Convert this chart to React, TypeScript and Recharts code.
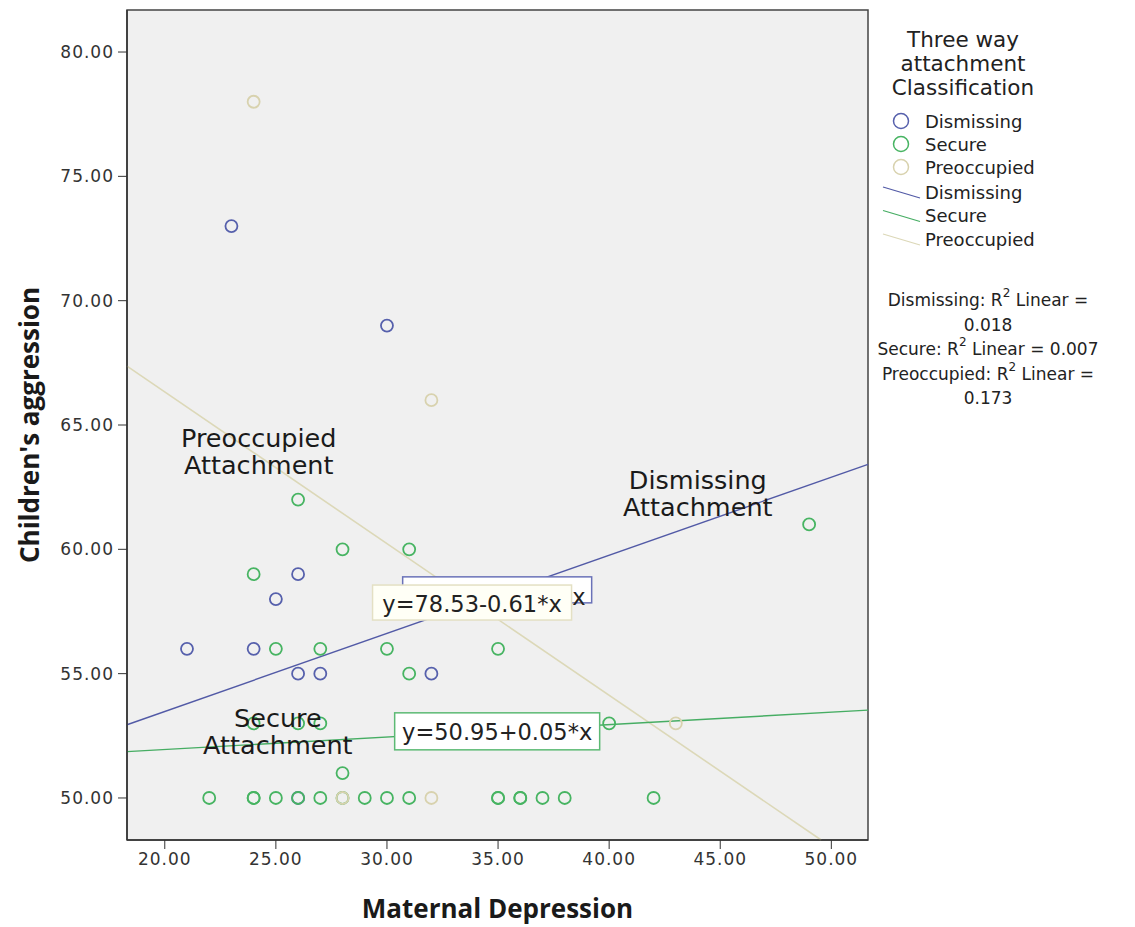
import React from "react";
import {
  CartesianGrid,
  ReferenceArea,
  ReferenceDot,
  ReferenceLine,
  Scatter,
  ScatterChart,
  XAxis,
  YAxis,
  Legend,
} from "recharts";

// axis ranges / ticks
const X_MIN = 18.3;
const X_MAX = 51.65;
const Y_MIN = 48.31;
const Y_MAX = 81.69;
const xTicks = [20, 25, 30, 35, 40, 45, 50];
const yTicks = [50, 55, 60, 65, 70, 75, 80];

// Maternal depression (x) / children's aggression (y), per group
const dismissingX = [23, 30, 26, 25, 21, 24, 26, 27, 32, 26];
const dismissingY = [73, 69, 59, 58, 56, 56, 55, 55, 55, 50];

const secureX = [26, 24, 28, 31, 25, 27, 30, 35, 31, 24, 26, 27, 40, 28, 49,
  22, 24, 24, 25, 26, 27, 28, 29, 30, 31, 35, 35, 36, 36, 37, 38, 42];
const secureY = [62, 59, 60, 60, 56, 56, 56, 56, 55, 53, 53, 53, 53, 51, 61,
  50, 50, 50, 50, 50, 50, 50, 50, 50, 50, 50, 50, 50, 50, 50, 50, 50];

const preoccupiedX = [24, 32, 32, 43, 28];
const preoccupiedY = [78, 66, 50, 53, 50];

// fitted lines (intercept, slope)
const fitDismissing = { a: 47.2, b: 0.314 };
const fitSecure = { a: 50.95, b: 0.05 };
const fitPreoccupied = { a: 78.53, b: -0.61 };

const C_DIS = "#5660ac";
const C_SEC = "#47b462";
const C_PRE = "#d8d2ae";
const L_DIS = "#525aa6";
const L_SEC = "#46ad63";
const L_PRE = "#dcd8b8";

const FONT = "'DejaVu Sans', Verdana, sans-serif";
const TITLE_FONT = "'Open Sans', 'DejaVu Sans', sans-serif";

const zip = (xs: number[], ys: number[]) => xs.map((x, i) => ({ x, y: ys[i] }));

// end points of a fitted line, kept inside the plot box
function fitSegment(f: { a: number; b: number }) {
  const pt = (x: number) => {
    let y = f.a + f.b * x;
    if (y < Y_MIN) { x = (Y_MIN - f.a) / f.b; y = Y_MIN; }
    if (y > Y_MAX) { x = (Y_MAX - f.a) / f.b; y = Y_MAX; }
    return { x, y };
  };
  return [pt(X_MIN), pt(X_MAX)];
}

const ring = (color: string) => (p: any) => (
  <circle cx={p.cx} cy={p.cy} r={6} fill="none" stroke={color} strokeWidth={1.8} />
);

const eqBox = (text: string, w: number, h: number, stroke: string, fill: string, anchor: "middle" | "end" = "middle", dy = 1) =>
  (p: any) => (
    <g>
      <rect x={p.cx - w / 2} y={p.cy - h / 2} width={w} height={h} fill={fill} stroke={stroke} strokeWidth={1.5} />
      <text
        x={anchor === "middle" ? p.cx : p.cx + w / 2 - 6}
        y={p.cy + dy}
        textAnchor={anchor}
        dominantBaseline="central"
        fontFamily={FONT}
        fontSize={22.5}
        fill="#222"
      >
        {text}
      </text>
    </g>
  );

const note = (l1: string, l2: string) => (p: any) => (
  <text x={p.cx} y={p.cy} textAnchor="middle" fontFamily={FONT} fontSize={25.5} fill="#1a1a1a">
    <tspan x={p.cx} dy={-5}>{l1}</tspan>
    <tspan x={p.cx} dy={27.5}>{l2}</tspan>
  </text>
);

const legendText = { fontFamily: FONT, fill: "#222" };

function LegendPanel() {
  const items = [
    { name: "Dismissing", color: C_DIS },
    { name: "Secure", color: C_SEC },
    { name: "Preoccupied", color: C_PRE },
  ];
  return (
    <svg width={267} height={420}>
      {["Three way", "attachment", "Classification"].map((t, i) => (
        <text key={t} x={95} y={39 + i * 24} textAnchor="middle" dominantBaseline="central" fontSize={21.5} {...legendText}>
          {t}
        </text>
      ))}
      {items.map((it, i) => (
        <g key={"p" + it.name}>
          <circle cx={33} cy={121 + i * 23} r={7.5} fill="none" stroke={it.color} strokeWidth={1.5} />
          <text x={57} y={121 + i * 23} dominantBaseline="central" fontSize={18} {...legendText}>{it.name}</text>
        </g>
      ))}
      {items.map((it, i) => (
        <g key={"l" + it.name}>
          <line x1={15} y1={187 + i * 23.5} x2={52} y2={198 + i * 23.5} stroke={[L_DIS, L_SEC, L_PRE][i]} strokeWidth={1.3} />
          <text x={57} y={192 + i * 23.5} dominantBaseline="central" fontSize={18} {...legendText}>{it.name}</text>
        </g>
      ))}
      {[
        ["Dismissing: R", "2", " Linear ="],
        ["0.018", "", ""],
        ["Secure: R", "2", " Linear = 0.007"],
        ["Preoccupied: R", "2", " Linear ="],
        ["0.173", "", ""],
      ].map((ln, i) => (
        <text key={i} x={120} y={300 + i * 24.5} textAnchor="middle" dominantBaseline="central" fontSize={17} {...legendText}>
          {ln[0]}
          {ln[1] && <tspan fontSize={12} dy={-7}>{ln[1]}</tspan>}
          {ln[2] && <tspan dy={ln[1] ? 7 : 0}>{ln[2]}</tspan>}
        </text>
      ))}
    </svg>
  );
}

const tickStyle = { fontSize: 17, fill: "#333", fontFamily: FONT, letterSpacing: 1 };

export default function App() {
  return (
    <div style={{ position: "absolute", left: 0, top: 0, background: "#fff" }}>
      <ScatterChart width={1135} height={927} margin={{ top: 10, right: 267, bottom: 0, left: 0 }}>
        <CartesianGrid fill="#f0f0f0" horizontal={false} vertical={false} />
        <XAxis
          type="number"
          dataKey="x"
          domain={[X_MIN, X_MAX]}
          ticks={xTicks}
          allowDataOverflow
          height={87}
          tickSize={9}
          tickMargin={4}
          tick={tickStyle}
          tickFormatter={(v: number) => v.toFixed(2)}
          stroke="#333"
          axisLine={{ stroke: "#333", strokeWidth: 1.5 }}
          label={{
            content: (p: any) => (
              <text
                x={p.viewBox.x + p.viewBox.width / 2}
                y={908}
                textAnchor="middle"
                dominantBaseline="central"
                fontFamily={TITLE_FONT}
                fontWeight="bold"
                fontSize={26}
                fill="#1a1a1a"
              >
                Maternal Depression
              </text>
            ),
          }}
        />
        <YAxis
          type="number"
          dataKey="y"
          domain={[Y_MIN, Y_MAX]}
          ticks={yTicks}
          allowDataOverflow
          width={127}
          tickSize={9}
          tickMargin={4}
          tick={tickStyle}
          tickFormatter={(v: number) => v.toFixed(2)}
          stroke="#333"
          axisLine={{ stroke: "#333", strokeWidth: 1.5 }}
          label={{
            content: () => (
              <text
                x={29}
                y={425}
                transform="rotate(-90 29 425)"
                textAnchor="middle"
                dominantBaseline="central"
                fontFamily={TITLE_FONT}
                fontWeight="bold"
                fontSize={26}
                fill="#1a1a1a"
              >
                Children's aggression
              </text>
            ),
          }}
        />
        <ReferenceArea x1={X_MIN} x2={X_MAX} y1={Y_MIN} y2={Y_MAX} fill="none" stroke="#444" strokeWidth={1.5} ifOverflow="visible" />

        <ReferenceLine segment={fitSegment(fitPreoccupied)} stroke={L_PRE} strokeWidth={1.6} ifOverflow="visible" />
        <ReferenceLine segment={fitSegment(fitDismissing)} stroke={L_DIS} strokeWidth={1.4} ifOverflow="visible" />
        <ReferenceLine segment={fitSegment(fitSecure)} stroke={L_SEC} strokeWidth={1.4} ifOverflow="visible" />

        <Scatter name="Dismissing" data={zip(dismissingX, dismissingY)} shape={ring(C_DIS)} isAnimationActive={false} />
        <Scatter name="Secure" data={zip(secureX, secureY)} shape={ring(C_SEC)} isAnimationActive={false} />
        <Scatter name="Preoccupied" data={zip(preoccupiedX, preoccupiedY)} shape={ring(C_PRE)} isAnimationActive={false} />

        <ReferenceDot x={34.96} y={58.37} r={0} ifOverflow="visible" shape={eqBox("y=47.20+0.31*x", 189, 26, "#6a72b8", "#fff", "end", 7)} />
        <ReferenceDot x={33.83} y={57.86} r={0} ifOverflow="visible" shape={eqBox("y=78.53-0.61*x", 199, 35, "#e4e0c4", "#fffff6")} />
        <ReferenceDot x={34.96} y={52.68} r={0} ifOverflow="visible" shape={eqBox("y=50.95+0.05*x", 205, 37, "#5cba74", "#fff")} />

        <ReferenceDot x={24.23} y={63.92} r={0} ifOverflow="visible" shape={note("Preoccupied", "Attachment")} />
        <ReferenceDot x={43.99} y={62.23} r={0} ifOverflow="visible" shape={note("Dismissing", "Attachment")} />
        <ReferenceDot x={25.09} y={52.66} r={0} ifOverflow="visible" shape={note("Secure", "Attachment")} />

        <Legend
          layout="vertical"
          align="center"
          verticalAlign="middle"
          content={() => <LegendPanel />}
          wrapperStyle={{ position: "absolute", left: 868, top: 0, width: 267, height: 420 }}
        />
      </ScatterChart>
    </div>
  );
}
